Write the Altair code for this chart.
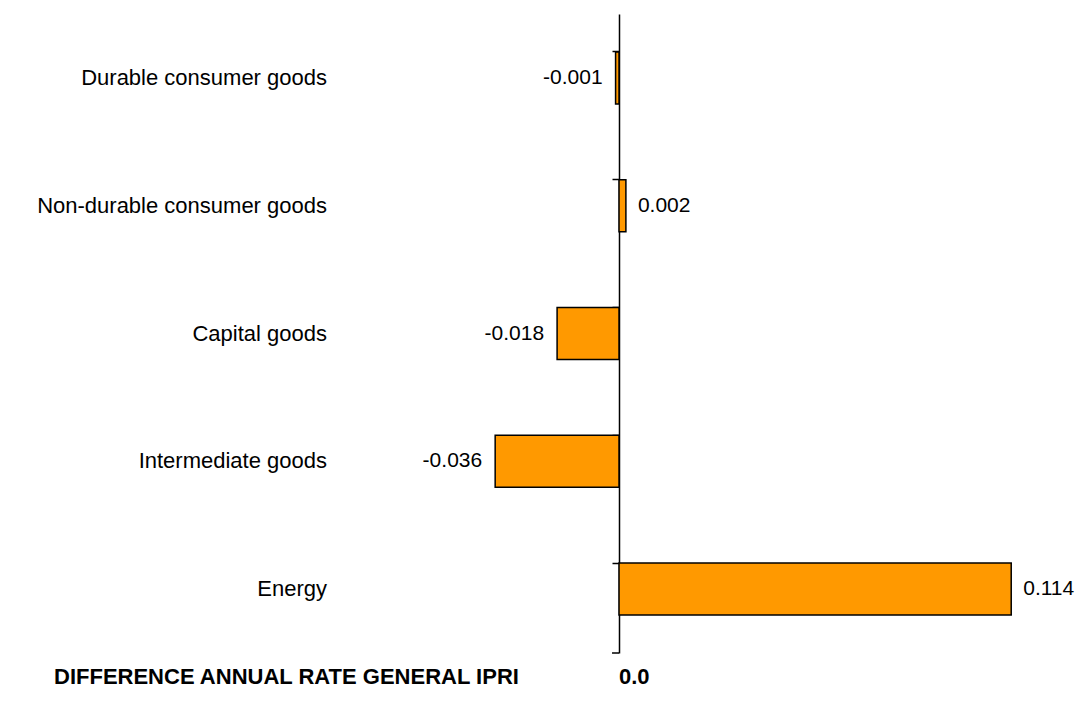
import altair as alt
import pandas as pd

categories = ["Durable consumer goods", "Non-durable consumer goods", "Capital goods",
              "Intermediate goods", "Energy"]
values = [-0.001, 0.002, -0.018, -0.036, 0.114]
x_title = "DIFFERENCE ANNUAL RATE GENERAL IPRI"
zero_label = "0.0"

W, H = 600, 639
FONT = "Liberation Sans, Arial, Helvetica, sans-serif"
FS = 22
VFS = 21

df = pd.DataFrame({"cat": categories, "val": values})

xs = alt.Scale(domain=[-0.05, 0.1244], nice=False, zero=False)
ys = alt.Scale(domain=categories, paddingInner=0.593, paddingOuter=0.2965)
Y = alt.Y("cat:N", scale=ys, sort=categories)

base = alt.Chart(df).transform_calculate(
    lbl="replace(format(datum.val, '.3f'), '\u2212', '-')"
)

bars = base.mark_bar(color="#FF9900", stroke="black", strokeWidth=1.5).encode(
    x=alt.X("val:Q", scale=xs, axis=None),
    x2=alt.datum(0),
    y=alt.Y("cat:N", scale=ys, sort=categories,
            axis=alt.Axis(labels=False, title=None, ticks=True, tickSize=7, tickWidth=1.5,
                          tickColor="black", domainColor="black", domainWidth=1.5,
                          bandPosition=0, offset=-172, grid=False)),
)

pos_lbl = base.transform_filter("datum.val >= 0").mark_text(
    align="left", baseline="middle", dx=12, font=FONT, fontSize=VFS, color="black"
).encode(x=alt.X("val:Q", scale=xs), y=Y, text="lbl:N")

neg_lbl = base.transform_filter("datum.val < 0").mark_text(
    align="right", baseline="middle", dx=-13, font=FONT, fontSize=VFS, color="black"
).encode(x=alt.X("val:Q", scale=xs), y=Y, text="lbl:N")

cat_lbl = base.mark_text(
    align="right", baseline="middle", font=FONT, fontSize=FS, color="black"
).encode(x=alt.value(-120), y=Y, text="cat:N")

one = alt.Chart(pd.DataFrame({"t": [x_title], "z": [zero_label], "v": [0.0]}))

bottom_tick = one.mark_rule(color="black", strokeWidth=1.5, x2Offset=-7).encode(
    x=alt.X("v:Q", scale=xs), x2=alt.X2("v:Q"), y=alt.value(H)
)

title_txt = one.mark_text(
    align="left", baseline="alphabetic", font=FONT,
    fontWeight="bold", fontSize=22, color="black"
).encode(x=alt.value(-393), y=alt.value(H + 31), text="t:N")

zero_txt = one.mark_text(
    align="left", baseline="alphabetic", font=FONT,
    fontWeight="bold", fontSize=22, color="black"
).encode(x=alt.X("v:Q", scale=xs), y=alt.value(H + 31), text="z:N")

chart = alt.layer(bars, pos_lbl, neg_lbl, cat_lbl, bottom_tick, title_txt, zero_txt).properties(
    width=W, height=H,
    autosize=alt.AutoSizeParams(type="none"),
    padding={"left": 439, "top": 6, "right": 30, "bottom": 37},
    background="white",
).configure_view(stroke=None)

chart.save("out.html", embed_options={"renderer": "svg", "actions": False})
